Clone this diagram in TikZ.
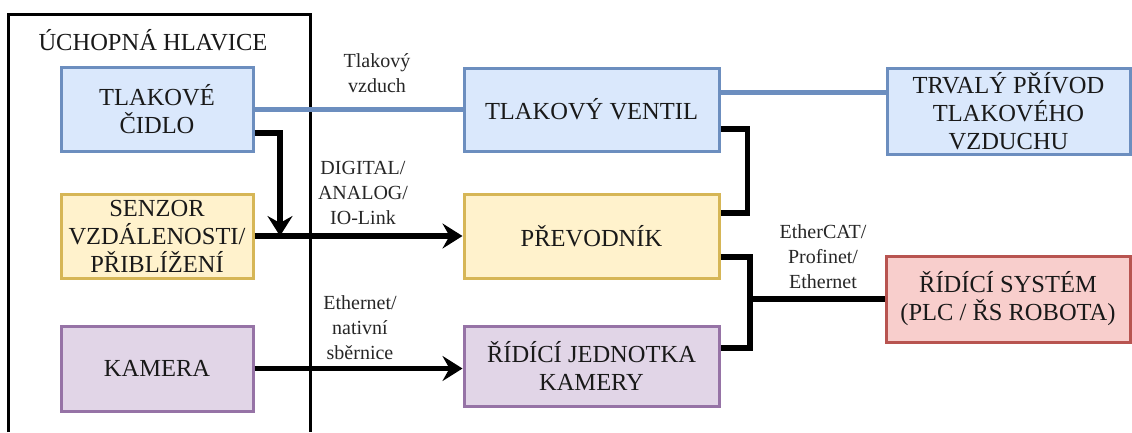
\documentclass[tikz,border=0pt]{standalone}
\usepackage{fontspec}
\setmainfont{Liberation Serif}
\usetikzlibrary{arrows.meta,calc}
\definecolor{bluedraw}{HTML}{6C8EBF}
\definecolor{bluefill}{HTML}{DAE8FC}
\definecolor{yeldraw}{HTML}{D6B656}
\definecolor{yelfill}{HTML}{FFF2CC}
\definecolor{purdraw}{HTML}{9673A6}
\definecolor{purfill}{HTML}{E1D5E7}
\definecolor{reddraw}{HTML}{B85450}
\definecolor{redfill}{HTML}{F8CECC}
\tikzset{
  boxbase/.style={rectangle, line width=3pt, align=center, inner sep=0pt,
    font=\fontsize{24.5}{28}\selectfont, text=black!90},
  bluebox/.style={boxbase, draw=bluedraw, fill=bluefill},
  yelbox/.style={boxbase, draw=yeldraw, fill=yelfill},
  purbox/.style={boxbase, draw=purdraw, fill=purfill},
  redbox/.style={boxbase, draw=reddraw, fill=redfill},
  lbl/.style={align=center, inner sep=0pt, font=\fontsize{20}{25}\selectfont, text=black!85},
  blk/.style={line width=5.5pt, draw=black},
  blueline/.style={line width=5pt, draw=bluedraw},
  bigtip/.style={-{Stealth[length=20pt,width=25pt,inset=7pt]}}
}
\begin{document}
\begin{tikzpicture}[x=1pt,y=-1pt]
\useasboundingbox (0,0) rectangle (1132,432);
% outer frame
\draw[line width=3pt] (8,432) -- (8,14) -- (310,14) -- (310,432);
\node[font=\fontsize{24.5}{28}\selectfont, inner sep=0pt, text=black!90] (title) at (153,40) {ÚCHOPNÁ HLAVICE};

% nodes
\node[bluebox, minimum width=192pt, minimum height=84pt] (tlc) at (157,109) {TLAKOVÉ\\ČIDLO};
\node[yelbox, minimum width=192pt, minimum height=84pt] (sen) at (157,236) {SENZOR\\VZDÁLENOSTI/\\PŘIBLÍŽENÍ};
\node[purbox, minimum width=192pt, minimum height=85pt] (kam) at (157,368.5) {KAMERA};
\node[bluebox, minimum width=255pt, minimum height=83pt] (ven) at (591.5,109.5) {TLAKOVÝ VENTIL};
\node[yelbox, minimum width=255pt, minimum height=84pt] (pre) at (591.5,236) {PŘEVODNÍK};
\node[purbox, minimum width=255pt, minimum height=80pt] (rjk) at (591.5,366) {ŘÍDÍCÍ JEDNOTKA\\KAMERY};
\node[bluebox, minimum width=243pt, minimum height=86pt] (trv) at (1008.5,111) {TRVALÝ PŘÍVOD\\TLAKOVÉHO\\VZDUCHU};
\node[redbox, minimum width=244pt, minimum height=86pt] (rs) at (1008,299) {ŘÍDÍCÍ SYSTÉM\\(PLC / ŘS ROBOTA)};

% labels
\node[lbl] (l1) at (377,73) {Tlakový\\vzduch};
\node[lbl] (l2) at (363,193) {DIGITAL/\\ANALOG/\\IO-Link};
\node[lbl] (l3) at (360,328) {Ethernet/\\nativní\\sběrnice};
\node[lbl] (l4) at (823,257) {EtherCAT/\\Profinet/\\Ethernet};

% helper coordinates
\coordinate (jx) at (280,0);
\coordinate (j1) at (sen.east -| jx);
\coordinate (kx) at (750,0);
\coordinate (rk) at ([yshift=18pt]rjk.east);

% blue air lines
\draw[blueline] (tlc.east) -- (tlc.east -| ven.west);
\draw[blueline] ([yshift=17.5pt]ven.east) coordinate (va) -- (va -| trv.west);

% black signal lines
\draw[blk, bigtip] ([yshift=-24pt]tlc.east) -| (j1);
\draw[blk, bigtip] (sen.east) -- (pre.west);
\draw[blk, bigtip] (kam.east) -- (kam.east -| rjk.west);
\draw[blk] ([yshift=-19.5pt]ven.east) -- ++(27,0) |- ([yshift=23pt]pre.east);
\draw[blk] ([yshift=-21pt]pre.east) -| (kx |- rk) -- (rk);
\draw[blk] (kx |- rs.west) -- (rs.west);
\end{tikzpicture}
\end{document}
